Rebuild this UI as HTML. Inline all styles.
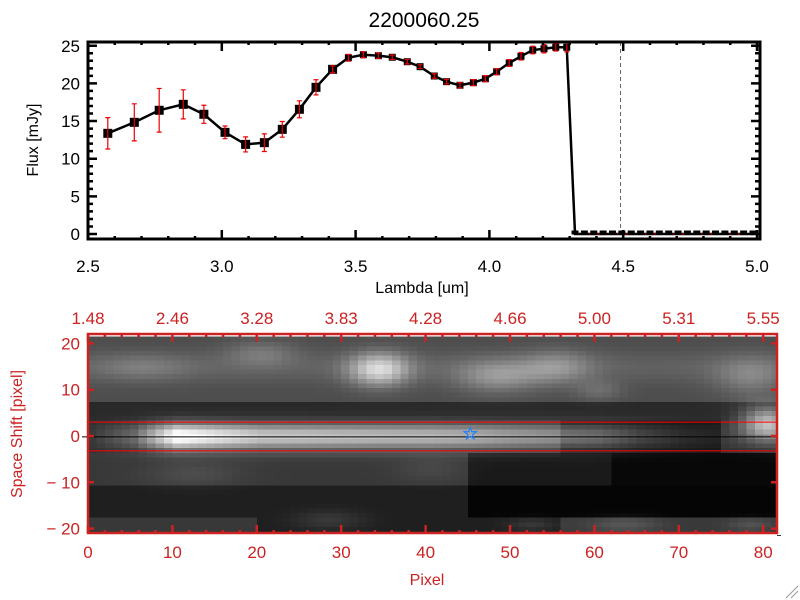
<!DOCTYPE html>
<html><head><meta charset="utf-8">
<style>
html,body{margin:0;padding:0;background:#fff;}
svg{display:block;font-family:"Liberation Sans",sans-serif;}
</style></head>
<body>
<svg id="chart" width="800" height="600" viewBox="0 0 800 600" xmlns="http://www.w3.org/2000/svg">
<rect width="800" height="600" fill="#fff"/>
<text x="424" y="27" font-size="21" text-anchor="middle" fill="#000">2200060.25</text>
<g id="topplot"></g>
<g id="botplot"></g>
</svg>
<script>
// ---- spectrum data ----
const lambdas = [2.574,2.673,2.766,2.856,2.933,3.012,3.089,3.159,3.226,3.290,3.352,3.414,3.473,3.529,3.585,3.637,3.693,3.741,3.794,3.840,3.890,3.940,3.985,4.027,4.074,4.118,4.162,4.204,4.248,4.289];
const fluxes = [13.37,14.83,16.43,17.22,15.9,13.5,11.9,12.13,13.9,16.56,19.48,21.87,23.41,23.81,23.68,23.47,22.88,22.22,20.98,20.23,19.75,20.1,20.62,21.55,22.71,23.6,24.43,24.6,24.8,24.8];
const errors = [2.08,2.46,2.9,1.93,1.2,0.84,1.0,1.17,1.04,1.13,1.0,0.46,0.45,0.4,0.35,0.3,0.3,0.25,0.3,0.3,0.35,0.4,0.4,0.4,0.45,0.5,0.5,0.55,0.5,0.6];
const zeroLambdas = [4.32,4.355,4.39,4.425,4.46,4.495,4.53,4.565,4.60,4.635,4.67,4.705,4.74,4.775,4.81,4.845,4.88,4.915,4.95,4.985];
const xTicksTop = ["2.5","3.0","3.5","4.0","4.5","5.0"];
const yTicksTop = ["0","5","10","15","20","25"];
// ---- image data ----
const pixTicks = ["0","10","20","30","40","50","60","70","80"];
const lamTicks = ["1.48","2.46","3.28","3.83","4.28","4.66","5.00","5.31","5.55"];
const shiftTicks = ["-20","-10","0","10","20"];
// blobs: [x, y, sx, sy, amplitude]
const blobs = [[34,14.5,2.5,2.5,0.5],[48,13,3.5,2.5,0.25],[55,15,3,2.5,0.22],[20,18,3,2,0.15],[6,15,4,2,0.12],[78,13,3,3,0.18],[80,3,2.2,2.5,0.55],[60,10,2,1.5,0.12],[12,-8,4,2,0.08],[28,-18,3,1.5,0.1],[63,-19,3,1.2,0.12],[52,-19,2,1,0.1],[78,-19,2,1,0.1],[40,-7,3,2,0.06]];
// trace amplitude along x (every 5 pixels 0..80)
const traceAmp = [0.05,0.25,0.9,0.75,0.62,0.6,0.58,0.56,0.55,0.52,0.45,0.4,0.35,0.2,0.1,0.05,0.1];

const NS="http://www.w3.org/2000/svg";
function mk(tag,attrs,parent){const e=document.createElementNS(NS,tag);for(const k in attrs)e.setAttribute(k,attrs[k]);parent.appendChild(e);return e;}

// ===== TOP PLOT =====
const topG=document.getElementById('topplot');
const TX0=88,TX1=760,TY0=42,TY1=239;
const sx=l=>88+(l-2.5)*267.6;
const sy=f=>234-f*7.53;
let vln=mk('line',{x1:sx(4.49),x2:sx(4.49),y1:TY0,y2:TY1,stroke:'#666','stroke-width':1,'stroke-dasharray':'4,3'},topG);


const allL=lambdas.concat(zeroLambdas), allF=fluxes.concat(zeroLambdas.map(()=>0));
let pl=mk('polyline',{points:allL.map((l,i)=>sx(l)+','+sy(allF[i])).join(' '),fill:'none',stroke:'#000','stroke-width':2.5},topG);


let zl=mk('line',{x1:sx(4.32),x2:sx(4.985),y1:sy(0),y2:sy(0),stroke:'#e00','stroke-width':1,'stroke-dasharray':'4,3'},topG);


allL.forEach((l,i)=>{
  const big=i<12, s=big?9:7;
  let m=mk('rect',{x:sx(l)-s/2,y:sy(allF[i])-s/2,width:s,height:(i>=lambdas.length?4:s),fill:'#000'},topG);
  
  
});
lambdas.forEach((l,i)=>{
  const x=sx(l),y1=sy(fluxes[i]-errors[i]),y2=sy(fluxes[i]+errors[i]);
  let g=mk('path',{d:`M${x},${y1}V${y2}M${x-2.5},${y1}h5M${x-2.5},${y2}h5`,stroke:'#e00','stroke-width':1.2,fill:'none'},topG);
  
  
});
let fr=mk('rect',{x:TX0,y:TY0,width:TX1-TX0,height:TY1-TY0,fill:'none',stroke:'#000','stroke-width':3},topG);


let tk='';
for(let v=0;v<=25;v++){const y=sy(v),L=v%5===0?9:5;tk+=`M${TX0},${y}h${L}M${TX1},${y}h${-L}`;}
for(let i=0;i<=25;i++){const x=sx(2.5+i*0.1),L=i%5===0?9:3;tk+=`M${x},${TY1}v${-L}M${x},${TY0}v${L}`;}
mk('path',{d:tk,stroke:'#000','stroke-width':2.5,fill:'none'},topG);
xTicksTop.forEach(t=>{let e=mk('text',{x:sx(+t),y:272,'font-size':17,'text-anchor':'middle'},topG);e.textContent=t;

});
yTicksTop.forEach(t=>{let e=mk('text',{x:80,y:sy(+t)+6,'font-size':17,'text-anchor':'end'},topG);e.textContent=t;

});
let xt=mk('text',{x:422,y:293,'font-size':16,'text-anchor':'middle'},topG);xt.textContent='Lambda [um]';


let yt=mk('text',{x:38,y:140,'font-size':16,'text-anchor':'middle',transform:'rotate(-90 38 140)'},topG);yt.textContent='Flux [mJy]';



// ===== BOTTOM IMAGE =====
const botG=document.getElementById('botplot');
const RED='#cc2222';
const BX0=88,BX1=777,BY0=334,BY1=533;
const pxs=p=>88+p*8.44;
const pys=s=>436-s*4.63;
function val(c,r){
  let v;
  if(r>=8) v=0.3+0.08*Math.exp(-((r-15)**2)/12);
  else if(r>3) v=0.16;
  else if(r>=-3) v=0.18;
  else if(r>-11) v=c<45?0.22:(c<62?0.1:0.03);
  else if(r>-18) v=c<45?0.12:0.02;
  else v=c<20||c>55?0.22:0.12;
  if(r<=3&&r>=-4&&c>55&&c<75) v=Math.min(v,0.08);
  const k=c/5, i=Math.min(15,Math.floor(k)), f=k-i;
  const a=traceAmp[i]*(1-f)+traceAmp[i+1]*f;
  v+=a*Math.exp(-(r*r)/(2*2.0*2.0));
  blobs.forEach(b=>{v+=b[4]*Math.exp(-((c-b[0])**2)/(2*b[2]*b[2])-((r-b[1])**2)/(2*b[3]*b[3]));});
  return Math.max(0,Math.min(1,v));
}
const cells=mk('g',{'shape-rendering':'crispEdges'},botG);


for(let c=0;c<82;c++){for(let r=-21;r<=21;r++){
  const g=Math.round(val(c,r)*255);
  mk('rect',{x:pxs(c),y:pys(r+0.5),width:9.2,height:5.3,fill:`rgb(${g},${g},${g})`},cells);
}}
mk('rect',{x:BX1,y:BY0,width:30,height:BY1-BY0+2,fill:'#fff'},botG);
mk('rect',{x:BX0,y:BY1,width:BX1-BX0,height:10,fill:'#fff'},botG);
mk('rect',{x:BX0,y:BY0-10,width:BX1-BX0,height:10,fill:'#fff'},botG);
let l1=mk('line',{x1:BX0,x2:BX1,y1:pys(3),y2:pys(3),stroke:'#f00','stroke-width':1},botG);


let l2=mk('line',{x1:BX0,x2:BX1,y1:pys(-3.2),y2:pys(-3.2),stroke:'#f00','stroke-width':1},botG);


let l0=mk('line',{x1:BX0-6,x2:BX1,y1:pys(-0.2),y2:pys(-0.2),stroke:'#000','stroke-width':1},botG);


let st=mk('text',{x:pxs(45.3),y:pys(0.5)+6,'font-size':18,'text-anchor':'middle',fill:'#1e7fff',stroke:'#1e7fff','stroke-width':0.6},botG);st.textContent='☆';


let bf=mk('rect',{x:BX0,y:BY0,width:BX1-BX0,height:BY1-BY0,fill:'none',stroke:RED,'stroke-width':2.5},botG);


let bt='';
for(let p=0;p<=81;p+=2){const L=p%10===0?8:3;bt+=`M${pxs(p)},${BY1}v${-L}M${pxs(p)},${BY0}v${L}`;}
for(let s=-20;s<=20;s+=10){bt+=`M${BX0},${pys(s)}h6M${BX1},${pys(s)}h-6`;}
mk('path',{d:bt,stroke:RED,'stroke-width':2.5,fill:'none'},botG);
pixTicks.forEach(t=>{let e=mk('text',{x:pxs(+t),y:558,'font-size':17,'text-anchor':'middle',fill:RED},botG);e.textContent=t;

});
lamTicks.forEach((t,i)=>{let e=mk('text',{x:pxs(i*10),y:324,'font-size':17,'text-anchor':'middle',fill:RED},botG);e.textContent=t;

});
shiftTicks.forEach(t=>{let e=mk('text',{x:80,y:pys(+t)+6,'font-size':17,'text-anchor':'end',fill:RED},botG);e.textContent=t.replace('-','− ');

});
let bx=mk('text',{x:427,y:585,'font-size':16,'text-anchor':'middle',fill:RED},botG);bx.textContent='Pixel';


let by=mk('text',{x:22,y:434,'font-size':16,'text-anchor':'middle',fill:RED,transform:'rotate(-90 22 434)'},botG);by.textContent='Space Shift [pixel]';


let grip=mk('path',{d:'M786,598L798,586M791,598L798,591',stroke:'#999','stroke-width':1},botG);


</script>
</body></html>
